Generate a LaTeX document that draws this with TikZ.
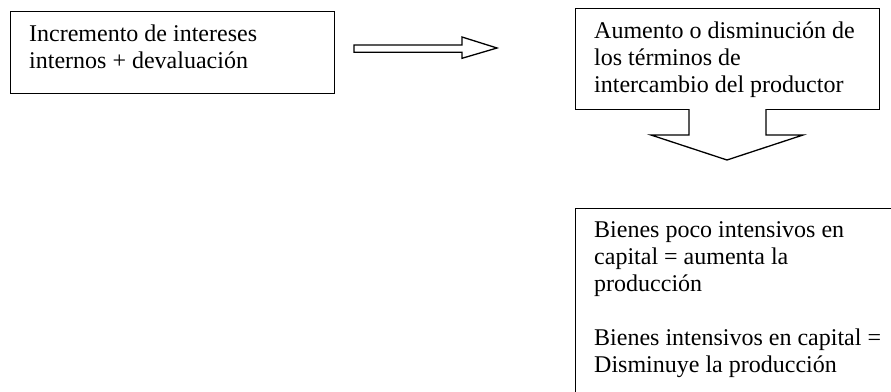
\documentclass[tikz,border=0pt]{standalone}
\usepackage{fontspec}
\setmainfont{Liberation Serif}
\begin{document}
\begin{tikzpicture}[x=1pt,y=-1pt,
  box/.style={draw=black, line width=1.3pt, inner sep=0pt, anchor=north west},
  txt/.style={inner sep=0pt, anchor=north west, align=left,
    font=\fontsize{24}{27}\selectfont},
  blockarrow/.style={draw=black, line width=1.3pt, fill=white, line join=miter}]
\useasboundingbox (0,0) rectangle (891,391);
\clip (0,0) rectangle (891,391);
% boxes
\node[box, minimum width=324.5pt, minimum height=82pt] (b1) at (9.5,10.5) {};
\node[box, minimum width=304pt, minimum height=101pt] (b2) at (575,8) {};
\node[box, minimum width=340pt, minimum height=200pt] (b3) at (575,208) {};
% texts
\node[txt] (t1) at (29,22.8) {\strut Incremento de intereses\\internos + devaluación};
\node[txt] (t2) at (594,19.6) {\strut Aumento o disminución de\\los términos de\\intercambio del productor};
\node[txt] (t3) at (594,218.4) {\strut Bienes poco intensivos en\\capital = aumenta la\\producción\\[27pt]Bienes intensivos en capital =\\Disminuye la producción};
% right block arrow
\draw[blockarrow] (354,45) -- (462,45) -- (462,37) -- (497,48) -- (462,58.3) -- (462,52.3) -- (354,52.3) -- cycle;
% down block arrow from b2
\draw[blockarrow] (689,109) -- (689,135) -- (651,135) -- (727,160) -- (803,135) -- (766,135) -- (766,109);
\end{tikzpicture}
\end{document}
